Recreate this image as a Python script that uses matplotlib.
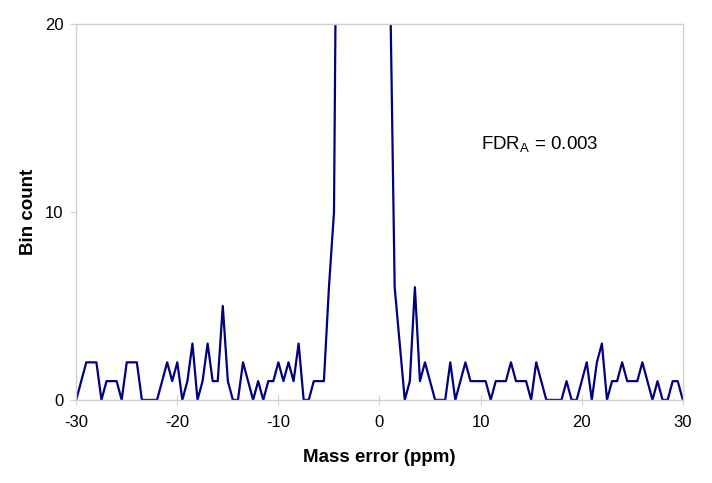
import numpy as np
import matplotlib
matplotlib.use("Agg")
from matplotlib import pyplot as plt

plt.rcParams['font.family'] = ['Liberation Sans', 'DejaVu Sans']
plt.rcParams['axes.unicode_minus'] = False

# bin centres, 0.5 ppm wide, from -30 to 30
mass_error = np.arange(-30, 30.25, 0.5)

# counts per bin (centre peak runs off the top; those values are estimates)
counts_neg = [0, 1, 2, 2, 2, 0, 1, 1, 1, 0,
              2, 2, 2, 0, 0, 0, 0, 1, 2, 1,
              2, 0, 1, 3, 0, 1, 3, 1, 1, 5,
              1, 0, 0, 2, 1, 0, 1, 0, 1, 1,
              2, 1, 2, 1, 3, 0, 0, 1, 1, 1,
              6, 10, 45, 110, 220, 380, 520, 600, 560, 430]
counts_pos = [260, 90, 24, 6, 3, 0, 1, 6, 1, 2,
              1, 0, 0, 0, 2, 0, 1, 2, 1, 1,
              1, 1, 0, 1, 1, 1, 2, 1, 1, 1,
              0, 2, 1, 0, 0, 0, 0, 1, 0, 0,
              1, 2, 0, 2, 3, 0, 1, 1, 2, 1,
              1, 1, 2, 1, 0, 1, 0, 0, 1, 1,
              0]
bin_count = counts_neg + counts_pos

x_ticks = [-30, -20, -10, 0, 10, 20, 30]
y_ticks = [0, 10, 20]

fig = plt.figure(figsize=(7.12, 4.83), dpi=100)
ax = fig.add_axes([0.107, 0.172, 0.852, 0.778])

ax.plot(mass_error, bin_count, color='#000080', lw=1.6)

ax.set_xlim(-30, 30)
ax.set_ylim(0, 20)
ax.set_xticks(x_ticks)
ax.set_yticks(y_ticks)

grey = '#d0d0d0'
for s in ax.spines.values():
    s.set_color(grey)
    s.set_linewidth(1.0)
ax.tick_params(axis='x', direction='inout', length=7, color=grey,
               labelsize=12, pad=7)
ax.tick_params(axis='y', direction='out', length=4, color=grey,
               labelsize=12, pad=5)

ax.set_xlabel('Mass error (ppm)', fontsize=13.5, fontweight='bold', labelpad=14)
ax.set_ylabel('Bin count', fontsize=13.5, fontweight='bold', labelpad=6)

ax.text(10.0, 13.6, r'FDR$_\mathregular{A}$ = 0.003', fontsize=13.5,
        va='center', ha='left')

fig.savefig('out.png', dpi=100)
